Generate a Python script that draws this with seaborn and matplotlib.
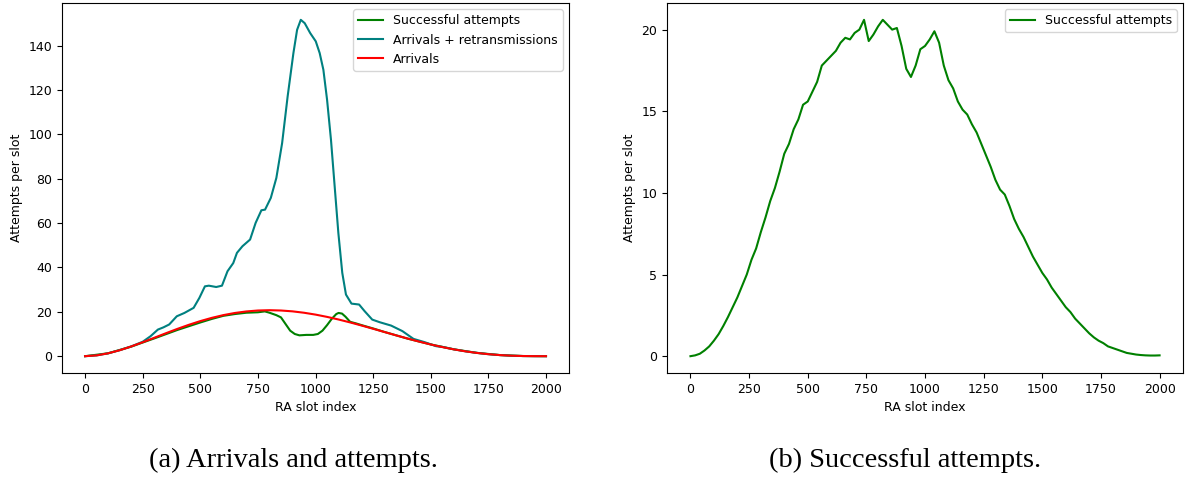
import numpy as np
import pandas as pd
import matplotlib
matplotlib.use("Agg")
import matplotlib.pyplot as plt
import seaborn as sns

# Arrivals (left panel, red)
arr_slots = [0, 50, 100, 150, 200, 250, 300, 350, 400, 450, 500, 550, 600, 650, 700,
             750, 800, 850, 900, 950, 1000, 1050, 1100, 1150, 1200, 1250, 1300, 1350,
             1400, 1450, 1500, 1550, 1600, 1650, 1700, 1750, 1800, 1850, 1900, 1950, 2000]
arr_vals = [0.0, 0.35, 1.29, 2.67, 4.37, 6.28, 8.29, 10.32, 12.29, 14.14, 15.82, 17.29,
            18.52, 19.49, 20.18, 20.6, 20.74, 20.6, 20.22, 19.59, 18.75, 17.72, 16.54,
            15.23, 13.82, 12.36, 10.87, 9.38, 7.94, 6.56, 5.27, 4.11, 3.07, 2.19, 1.46,
            0.9, 0.49, 0.22, 0.07, 0.01, 0.0]

# Arrivals + retransmissions (left panel, teal)
retx_slots = [0, 50, 100, 150, 200, 250, 284, 316, 340, 365, 398, 431, 471, 496, 520,
              537, 569, 594, 618, 643, 659, 683, 716, 740, 765, 781, 806, 830, 855, 879,
              904, 920, 936, 953, 977, 1001, 1018, 1034, 1050, 1067, 1083, 1099, 1116,
              1132, 1156, 1189, 1213, 1246, 1279, 1328, 1377, 1425, 1474, 1523, 1550,
              1600, 1650, 1700, 1750, 1800, 1850, 1900, 1950, 2000]
retx_vals = [0.0, 0.35, 1.3, 2.7, 4.4, 6.5, 9.0, 12.0, 13.0, 14.3, 18.0, 19.5, 21.8,
             26.3, 31.5, 31.8, 31.2, 31.8, 38.3, 42.0, 46.6, 49.6, 52.6, 60.1, 65.8,
             66.1, 71.4, 80.4, 96.1, 117.2, 136.7, 147.2, 151.7, 150.2, 145.7, 142.0,
             136.7, 129.2, 115.7, 97.6, 76.6, 55.6, 37.6, 27.8, 23.7, 23.3, 20.3, 16.5,
             15.3, 13.8, 11.3, 7.8, 6.3, 4.5, 4.2, 3.1, 2.2, 1.5, 0.9, 0.5, 0.22, 0.07,
             0.01, 0.0]

# Successful attempts (left panel, green)
succ_a_slots = [0, 100, 200, 300, 400, 450, 500, 550, 600, 650, 700, 750, 780, 800,
                830, 850, 870, 890, 910, 930, 960, 990, 1010, 1030, 1050, 1070, 1090,
                1100, 1115, 1130, 1150, 1175, 1200, 1250, 1300, 1400, 1500, 1600, 1700,
                1800, 1900, 2000]
succ_a_vals = [0.0, 1.3, 4.3, 8.0, 11.8, 13.5, 15.2, 16.8, 18.2, 19.0, 19.6, 19.8, 20.2,
               19.6, 18.5, 17.5, 14.5, 11.5, 10.0, 9.4, 9.6, 9.6, 10.0, 11.5, 14.0, 16.8,
               19.0, 19.5, 19.2, 17.8, 15.5, 14.8, 14.0, 12.5, 10.9, 7.9, 5.3, 3.1, 1.5,
               0.5, 0.07, 0.0]

# Successful attempts (right panel)
succ_b_slots = list(range(0, 2001, 20))
succ_b_vals = [0.0, 0.05, 0.15, 0.35, 0.6, 0.95, 1.35, 1.85, 2.4, 3.0,
               3.6, 4.3, 5.0, 5.9, 6.6, 7.6, 8.5, 9.5, 10.3, 11.3,
               12.4, 13.0, 13.9, 14.5, 15.4, 15.6, 16.2, 16.8, 17.8, 18.1,
               18.4, 18.7, 19.2, 19.5, 19.4, 19.8, 20.0, 20.6, 19.3, 19.7,
               20.2, 20.6, 20.3, 20.0, 20.1, 19.0, 17.6, 17.1, 17.8, 18.8,
               19.0, 19.4, 19.9, 19.2, 17.8, 16.9, 16.4, 15.6, 15.1, 14.8,
               14.2, 13.7, 13.0, 12.3, 11.6, 10.8, 10.2, 9.9, 9.2, 8.4,
               7.8, 7.3, 6.7, 6.1, 5.6, 5.1, 4.7, 4.2, 3.8, 3.4,
               3.0, 2.7, 2.3, 2.0, 1.7, 1.4, 1.15, 0.95, 0.8, 0.6,
               0.5, 0.4, 0.3, 0.2, 0.15, 0.1, 0.07, 0.05, 0.04, 0.04, 0.05]

fig = plt.figure(figsize=(11.86, 4.79), dpi=100)
ax1 = fig.add_axes([0.0523, 0.2213, 0.4275, 0.7724])
ax2 = fig.add_axes([0.5624, 0.2213, 0.4351, 0.7724])

sns.lineplot(x=succ_a_slots, y=succ_a_vals, color="green", label="Successful attempts",
             estimator=None, ax=ax1)
sns.lineplot(x=retx_slots, y=retx_vals, color="teal", label="Arrivals + retransmissions",
             estimator=None, ax=ax1)
sns.lineplot(x=arr_slots, y=arr_vals, color="red", label="Arrivals",
             estimator=None, ax=ax1)

sns.lineplot(x=succ_b_slots, y=succ_b_vals, color="green", label="Successful attempts",
             estimator=None, ax=ax2)

for ax in (ax1, ax2):
    ax.set_xlabel("RA slot index", fontsize=9)
    ax.set_ylabel("Attempts per slot", fontsize=9)
    ax.set_xticks([0, 250, 500, 750, 1000, 1250, 1500, 1750, 2000])
    ax.tick_params(labelsize=9)
    ax.legend(loc="upper right", fontsize=9)

ax2.set_yticks([0, 5, 10, 15, 20])

fig.text(0.247, 0.038, "(a) Arrivals and attempts.", family="Liberation Serif",
         fontsize=20.5, ha="center", va="center")
fig.text(0.763, 0.038, "(b) Successful attempts.", family="Liberation Serif",
         fontsize=20.5, ha="center", va="center")

fig.savefig("out.png", dpi=100)
